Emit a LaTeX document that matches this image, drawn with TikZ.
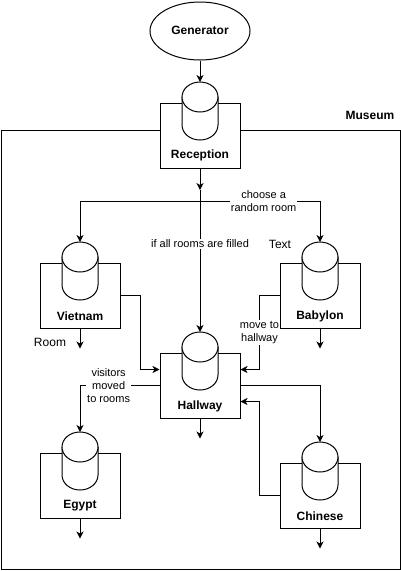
\documentclass[tikz,border=0pt]{standalone}
\usepackage{fontspec}
\setmainfont{Liberation Sans}
\usetikzlibrary{shapes.geometric,arrows.meta}
\begin{document}
\begin{tikzpicture}[
    x=1pt, y=-1pt,
    line width=1pt,
    room/.style={
      rectangle,
      draw,
      fill=white,
      minimum width=80pt,
      minimum height=65pt,
      inner sep=0pt
    },
    drum/.pic={
      \filldraw[fill=white] (-18,-14) -- (-18,14)
        arc[start angle=180, end angle=360, x radius=18pt, y radius=15pt]
        -- (18,-14) -- cycle;
      \filldraw[fill=white] (0,-14) ellipse[x radius=18pt, y radius=15pt];
      \coordinate (-top) at (0,-29);
    },
    roomname/.style={font=\fontsize{12}{14}\selectfont\bfseries},
    plain/.style={font=\fontsize{12}{14}\selectfont},
    edgelabel/.style={
      font=\fontsize{11}{13}\selectfont,
      fill=white,
      align=center,
      inner sep=1pt
    },
    flow/.style={-{Stealth[length=7pt,width=7pt,inset=2pt]}}]

    \useasboundingbox (0,0) rectangle (401,571);

    % museum frame
    \draw (1,130) node[anchor=north west, minimum width=399pt, minimum height=439pt, draw, inner sep=0pt] (M) {};
    \node[roomname] (Mname) at (370,115) {Museum};

    % generator
    \draw (200,31) node[ellipse, draw, fill=white, minimum width=100pt, minimum height=58pt] (G) {};
    \node[roomname] (Gname) at (200,30) {Generator};

    % rooms
    \draw (200,135.5) node[room] (R) {};
    \pic (Rc) at (200,111) {drum};
    \node[roomname] (Rname) at (200,155) {Reception};

    \draw (80,295.5) node[room] (V) {};
    \pic (Vc) at (80,271) {drum};
    \node[roomname] (Vname) at (80,316) {Vietnam};

    \draw (320,295.5) node[room] (B) {};
    \pic (Bc) at (320,271) {drum};
    \node[roomname] (Bname) at (320,316) {Babylon};

    \draw (200,385.5) node[room] (H) {};
    \pic (Hc) at (200,361) {drum};
    \node[roomname] (Hname) at (200,406) {Hallway};

    \draw (80,485.5) node[room] (E) {};
    \pic (Ec) at (80,461) {drum};
    \node[roomname] (Ename) at (80,506) {Egypt};

    \draw (320,495.5) node[room] (C) {};
    \pic (Cc) at (320,471) {drum};
    \node[roomname] (Cname) at (320,516) {Chinese};

    % loose texts
    \node[plain] (T) at (280,244) {Text};
    \node[plain] (Rm) at (50,342) {Room};

    % lines
    \coordinate (split) at (200,190);
    \coordinate (fork) at (200,201);
    \draw[flow] (G.south) -- (Rc-top);
    \draw[flow] (R.south) -- (split);
    \draw[flow] (split) -- (Hc-top) node[edgelabel, pos=0.38] {if all rooms are filled};
    \draw[flow] (fork) -| (Vc-top);
    \draw[flow] (fork) -| (Bc-top) node[edgelabel, pos=0.265] {choose a\\random room};
    \draw[flow] (V.east) -- ++(20,0) |- ([yshift=16pt]H.west);
    \draw[flow] (B.west) -- ++(-20,0) |- ([yshift=16pt]H.east) node[edgelabel, pos=0.25] {move to\\hallway};
    \draw[flow] (C.west) -- ++(-20,0) |- ([yshift=-16pt]H.east);
    \draw[flow] (H.east) -| (Cc-top);
    \draw[flow] (H.west) -| (Ec-top) node[edgelabel, pos=0.32] {visitors\\moved\\to rooms};
    \foreach \r in {V,B,H,E,C} {
      \coordinate (\r out) at ([yshift=-20pt]\r.south);
      \draw[flow] (\r.south) -- (\r out);
    }
  \end{tikzpicture}
\end{document}
